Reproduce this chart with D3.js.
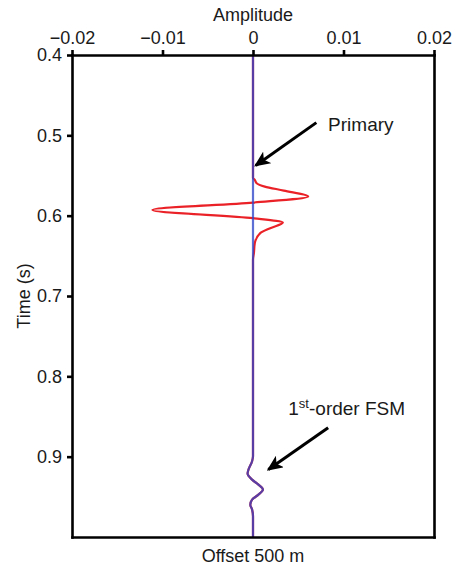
<!DOCTYPE html>
<html>
<head>
<meta charset="utf-8">
<script src="https://cdn.jsdelivr.net/npm/d3@7"></script>
<style>
  html, body { margin: 0; padding: 0; background: #fff; }
  svg { display: block; font-family: "Liberation Sans", Arial, sans-serif; }
</style>
</head>
<body>
<svg id="chart" width="458" height="569"></svg>
<script>
// ---- data ----
const ampTicks = [-0.02, -0.01, 0, 0.01, 0.02];
const timeTicks = [0.4, 0.5, 0.6, 0.7, 0.8, 0.9];

// full wavefield trace (red): time (s) and amplitude
const redTime = [0.400, 0.553, 0.5555, 0.5596, 0.5638, 0.5688, 0.5762, 0.5837, 0.5928, 0.6031, 0.6086, 0.6156, 0.6218, 0.6342, 0.6467, 0.655,
                 0.8996, 0.9058, 0.9162, 0.9211, 0.9286, 0.9348, 0.9410, 0.9473, 0.9535, 0.9597, 0.9659, 0.9742, 1.0];
const redAmp  = [0, 0, 0.0002, 0.0004, 0.0013, 0.0034, 0.0061, 0.0000, -0.0111, 0.0000, 0.0033, 0.0019, 0.0008, 0.0002, 0.0001, 0,
                 0, -0.0001, -0.0005, -0.0006, -0.0001, 0.0006, 0.0011, 0.0006, -0.0001, -0.0003, -0.0001, 0, 0];

// multiple-only trace (blue)
const blueTime = [0.400, 0.8996, 0.9058, 0.9162, 0.9211, 0.9286, 0.9348, 0.9410, 0.9473, 0.9535, 0.9597, 0.9659, 0.9742, 1.0];
const blueAmp  = [0, 0, -0.0001, -0.0005, -0.0006, -0.0001, 0.0006, 0.0011, 0.0006, -0.0001, -0.0003, -0.0001, 0, 0];

// annotations
const annoLabels = ["Primary", "1st-order FSM"];
const annoText = [[0.0083, 0.4945], [0.0039, 0.8478]];
const annoTail = [[0.0070, 0.4842], [0.0083, 0.864]];
const annoTip  = [[0.0003, 0.5375], [0.0017, 0.916]];

// ---- layout ----
const svg = d3.select("#chart");
const mLeft = 72, mRight = 434, mTop = 55, mBottom = 537;
const x = d3.scaleLinear().domain([-0.02, 0.02]).range([mLeft, mRight]);
const y = d3.scaleLinear().domain([0.4, 1.0]).range([mTop, mBottom]);
const fs = 18;
const txt = "#1a1a1a";

// traces
const line = d3.line().x(d => x(d[1])).y(d => y(d[0])).curve(d3.curveMonotoneY);
svg.append("path")
  .attr("d", line(d3.zip(redTime, redAmp)))
  .attr("fill", "none").attr("stroke", "#ea2228").attr("stroke-width", 2.2);
svg.append("path")
  .attr("d", line(d3.zip(blueTime, blueAmp)))
  .attr("fill", "none").attr("stroke", "#2f45c8").attr("stroke-opacity", 0.78).attr("stroke-width", 2.2);

// axes
function styleAxis(g) {
  g.select(".domain").attr("stroke", "#000").attr("stroke-width", 2.6).attr("stroke-linecap", "square");
  g.selectAll(".tick line").attr("stroke", "#000").attr("stroke-width", 2.6);
  g.selectAll(".tick text").attr("fill", txt).attr("font-size", fs).attr("font-family", "Liberation Sans, Arial, sans-serif");
}
svg.append("g").attr("transform", `translate(0,${mTop})`)
  .call(d3.axisTop(x).tickValues(ampTicks).tickFormat(d3.format(".2~f")).tickSize(5).tickSizeOuter(0).tickPadding(6))
  .call(styleAxis);
svg.append("g").attr("transform", `translate(${mLeft},0)`)
  .call(d3.axisLeft(y).tickValues(timeTicks).tickFormat(d3.format(".1f")).tickSize(5).tickSizeOuter(0).tickPadding(5))
  .call(styleAxis);
svg.append("g").attr("transform", `translate(${mRight},0)`)
  .call(d3.axisRight(y).tickValues([]).tickSizeOuter(0))
  .call(styleAxis);
svg.append("g").attr("transform", `translate(0,${mBottom})`)
  .call(d3.axisBottom(x).tickValues([]).tickSizeOuter(0))
  .call(styleAxis);

// axis titles
svg.append("text").attr("x", x(0)).attr("y", 21).attr("text-anchor", "middle")
  .attr("font-size", fs).attr("fill", txt).text("Amplitude");
svg.append("text").attr("transform", `translate(30,${(mTop + mBottom) / 2}) rotate(-90)`)
  .attr("text-anchor", "middle").attr("font-size", fs).attr("fill", txt).text("Time (s)");
svg.append("text").attr("x", x(0)).attr("y", 562).attr("text-anchor", "middle")
  .attr("font-size", fs).attr("fill", txt).text("Offset 500 m");

// arrowhead marker
svg.append("defs").append("marker")
  .attr("id", "ah").attr("viewBox", "0 -7 16 14").attr("refX", 14).attr("refY", 0)
  .attr("markerWidth", 16).attr("markerHeight", 14).attr("markerUnits", "userSpaceOnUse")
  .attr("orient", "auto")
  .append("path").attr("d", "M0,-7 L16,0 L0,7 L4,0 Z").attr("fill", "#000");

// annotations
annoLabels.forEach((lab, i) => {
  svg.append("line")
    .attr("x1", x(annoTail[i][0])).attr("y1", y(annoTail[i][1]))
    .attr("x2", x(annoTip[i][0])).attr("y2", y(annoTip[i][1]))
    .attr("stroke", "#000").attr("stroke-width", 3).attr("marker-end", "url(#ah)");
  const t = svg.append("text").attr("x", x(annoText[i][0])).attr("y", y(annoText[i][1]))
    .attr("font-size", 19).attr("fill", txt);
  if (lab.startsWith("1st")) {
    t.append("tspan").text("1");
    t.append("tspan").attr("font-size", 13).attr("dy", -7).text("st");
    t.append("tspan").attr("dy", 7).text("-order FSM");
  } else {
    t.text(lab);
  }
});
</script>
</body>
</html>
